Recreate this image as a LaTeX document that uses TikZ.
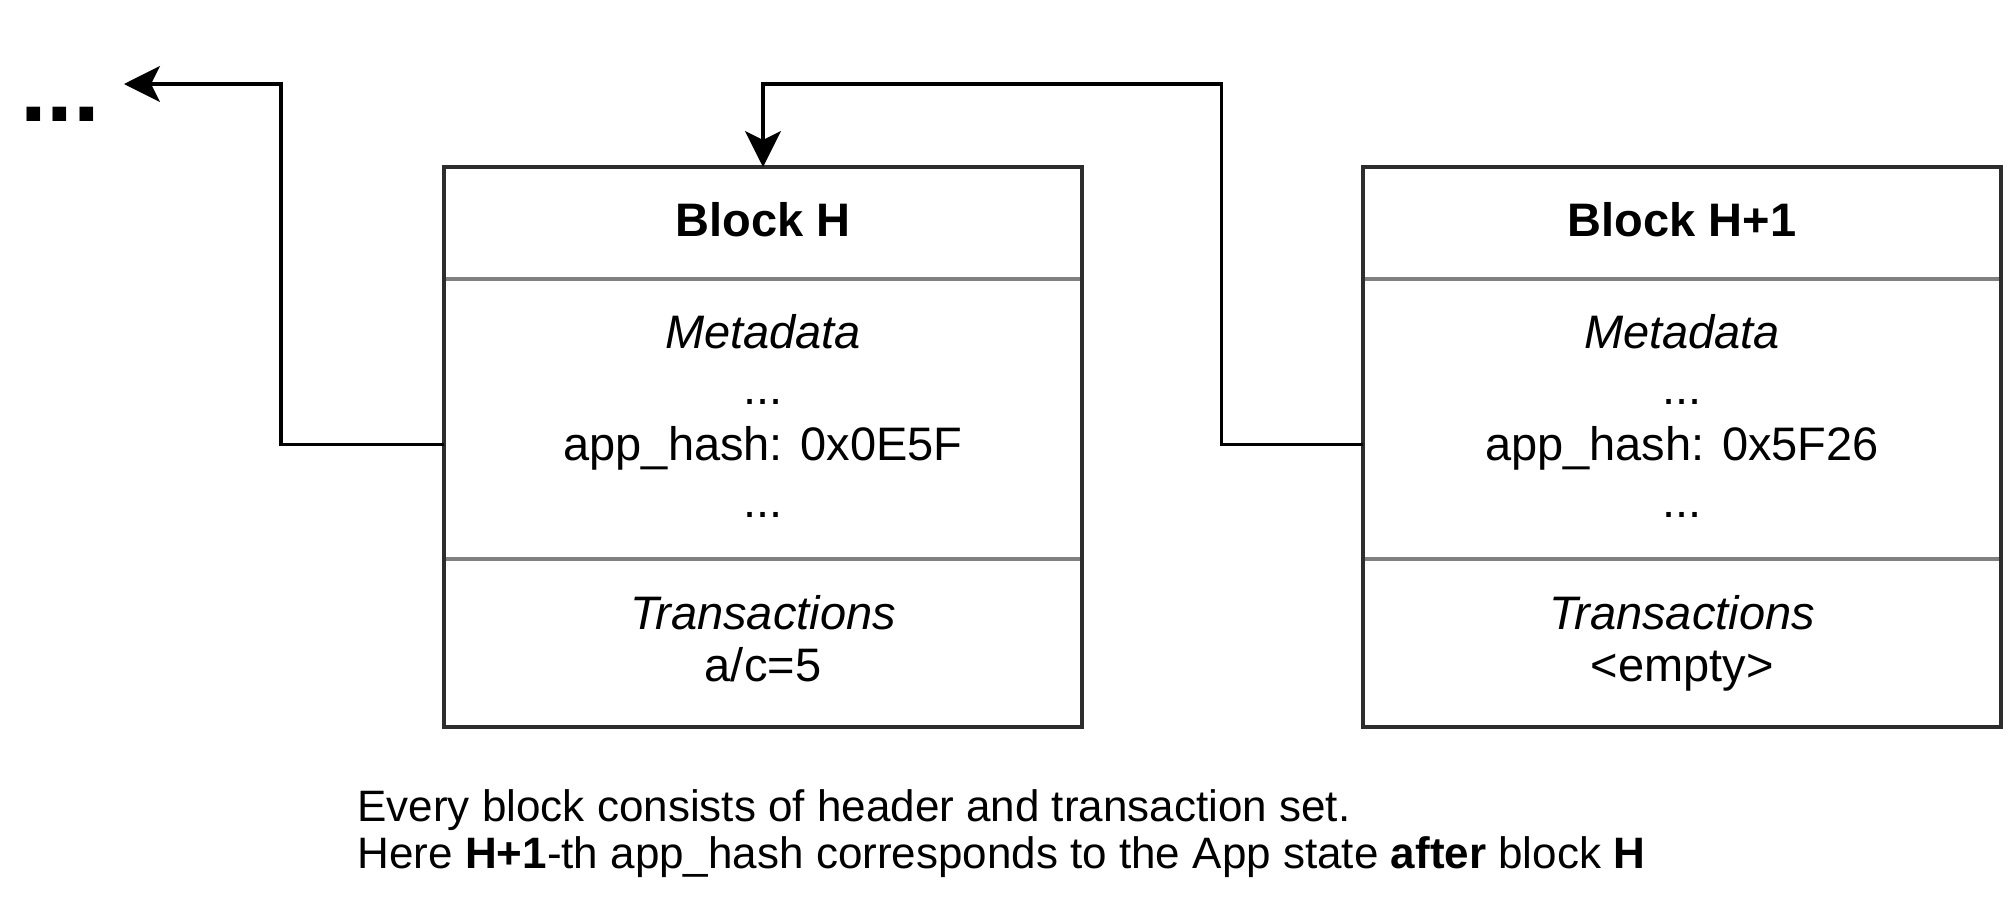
\documentclass[tikz,border=0pt]{standalone}
\usepackage{fontspec}
\setmainfont{Liberation Sans}
\usetikzlibrary{arrows.meta}
\definecolor{bordercol}{RGB}{45,45,45}
\definecolor{divcol}{RGB}{128,128,128}
\tikzset{
  blockbox/.style={draw=bordercol, line width=4pt, rectangle, inner sep=0pt, outer sep=0pt,
    minimum width=638pt, minimum height=559.5pt},
  divider/.style={draw=divcol, line width=4pt, shorten <=2pt, shorten >=2pt},
  conn/.style={draw=black, line width=3.3pt, -{Stealth[length=36pt, width=36pt, inset=9pt]}},
  boxtext/.style={anchor=base, inner sep=0pt, font=\fontsize{47}{56}\selectfont},
  notetext/.style={anchor=base west, inner sep=0pt, font=\fontsize{44}{47}\selectfont},
}
\begin{document}
\begin{tikzpicture}[x=1pt, y=-1pt]
\useasboundingbox (0,0) rectangle (2010,914);
% blocks
\node[blockbox] (bh) at (763,446.75) {};
\node[blockbox] (bh1) at (1682,446.75) {};
% dividers
\draw[divider] (bh.west |- 0,278.7) coordinate (dha) -- (bh.east |- 0,278.7) coordinate (dhb);
\draw[divider] (bh.west |- 0,558.6) coordinate (dhc) -- (bh.east |- 0,558.6) coordinate (dhd);
\draw[divider] (bh1.west |- 0,278.7) coordinate (dia) -- (bh1.east |- 0,278.7) coordinate (dib);
\draw[divider] (bh1.west |- 0,558.6) coordinate (dic) -- (bh1.east |- 0,558.6) coordinate (did);
% texts block H
\node[boxtext, font=\fontsize{47}{56}\selectfont\bfseries] (th) at (763,236.6) {Block H};
\node[boxtext, font=\fontsize{47}{56}\selectfont\itshape] (mh) at (763,348) {Metadata};
\node[boxtext] (d1h) at (763,404.2) {...};
\node[boxtext] (ah) at (763,460.4) {app\_hash: 0x0E5F};
\node[boxtext] (d2h) at (763,517) {...};
\node[boxtext, font=\fontsize{47}{56}\selectfont\itshape] (trh) at (763,629) {Transactions};
\node[boxtext] (vh) at (763,681.6) {a/c=5};
% texts block H+1
\node[boxtext, font=\fontsize{47}{56}\selectfont\bfseries] (th1) at (1682,236.6) {Block H+1};
\node[boxtext, font=\fontsize{47}{56}\selectfont\itshape] (mh1) at (1682,348) {Metadata};
\node[boxtext] (d1h1) at (1682,404.2) {...};
\node[boxtext] (ah1) at (1682,460.4) {app\_hash: 0x5F26};
\node[boxtext] (d2h1) at (1682,517) {...};
\node[boxtext, font=\fontsize{47}{56}\selectfont\itshape] (trh1) at (1682,629) {Transactions};
\node[boxtext] (vh1) at (1682,681.6) {<empty>};
% ellipsis on the left
\node[anchor=base west, inner sep=0pt, font=\fontsize{96}{96}\selectfont\bfseries] (more) at (20,121) {...};
% connectors
\coordinate (c1) at (281,84);
\coordinate (tipL) at (124,84);
\coordinate (c2) at (1221.5,84);
\draw[conn] ([yshift=2.5pt]bh.west) -| (c1) -- (tipL);
\draw[conn] ([yshift=2.5pt]bh1.west) -| (c2) -| (bh.north);
% note
\node[notetext] (n1) at (357.3,821.7) {Every block consists of header and transaction set.};
\node[notetext] (n2) at (357.3,868.3) {Here \textbf{H+1}-th app\_hash corresponds to the App state \textbf{after} block \textbf{H}};
\end{tikzpicture}
\end{document}
